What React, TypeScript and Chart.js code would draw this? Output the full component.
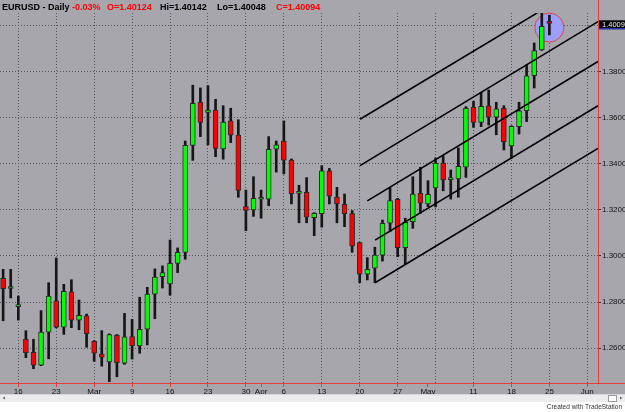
import { useEffect, useRef } from 'react';
import { Chart, registerables } from 'chart.js';
Chart.register(...registerables);

// Trading-day index 0 = Thu 12 Feb 2009 ... 72 = Mon 25 May 2009
const opens = [
  1.2903, 1.2859, 1.2780, 1.2639, 1.2582, 1.2526, 1.2670, 1.2805, 1.2691, 1.2844,
  1.2722, 1.2740, 1.2630, 1.2574, 1.2540, 1.2656, 1.2535, 1.2650, 1.2610, 1.2682,
  1.2834, 1.2910, 1.2879, 1.2968, 1.3016, 1.3480, 1.3667, 1.3623, 1.3633, 1.3465,
  1.3586, 1.3525, 1.3214, 1.3200, 1.3246, 1.3246, 1.3463, 1.3499, 1.3416, 1.3272,
  1.3276, 1.3166, 1.3184, 1.3369, 1.3256, 1.3224, 1.3184, 1.3058, 1.2921, 1.2947,
  1.3004, 1.3142, 1.3246, 1.3036, 1.3149, 1.3272, 1.3226, 1.3295, 1.3403, 1.3331,
  1.3334, 1.3385, 1.3645, 1.3580, 1.3652, 1.3602, 1.3641, 1.3478, 1.3561, 1.3630,
  1.3782, 1.3894, 1.4012,
];
const highs = [
  1.2942, 1.2942, 1.2826, 1.2676, 1.2639, 1.2763, 1.2884, 1.2991, 1.2877, 1.2897,
  1.2809, 1.2748, 1.2633, 1.2676, 1.2662, 1.2659, 1.2751, 1.2725, 1.2821, 1.2864,
  1.2944, 1.2957, 1.3069, 1.3035, 1.3499, 1.3741, 1.3729, 1.3739, 1.3680, 1.3652,
  1.3641, 1.3591, 1.3286, 1.3344, 1.3286, 1.3518, 1.3499, 1.3586, 1.3421, 1.3307,
  1.3340, 1.3188, 1.3392, 1.3380, 1.3298, 1.3269, 1.3197, 1.3060, 1.2993, 1.3038,
  1.3156, 1.3296, 1.3250, 1.3164, 1.3344, 1.3385, 1.3327, 1.3425, 1.3435, 1.3373,
  1.3469, 1.3648, 1.3671, 1.3710, 1.3720, 1.3667, 1.3652, 1.3565, 1.3667, 1.3829,
  1.3924, 1.4053, 1.4045,
];
const lows = [
  1.2719, 1.2818, 1.2722, 1.2559, 1.2511, 1.2524, 1.2554, 1.2688, 1.2660, 1.2689,
  1.2680, 1.2604, 1.2543, 1.2522, 1.2455, 1.2476, 1.2530, 1.2553, 1.2578, 1.2614,
  1.2728, 1.2861, 1.2830, 1.2928, 1.2986, 1.3415, 1.3518, 1.3482, 1.3431, 1.3420,
  1.3492, 1.3255, 1.3110, 1.3172, 1.3164, 1.3218, 1.3364, 1.3356, 1.3226, 1.3144,
  1.3144, 1.3088, 1.3125, 1.3226, 1.3144, 1.3127, 1.3016, 1.2884, 1.2896, 1.2884,
  1.2978, 1.3105, 1.2997, 1.2964, 1.3120, 1.3185, 1.3214, 1.3213, 1.3283, 1.3247,
  1.3255, 1.3341, 1.3558, 1.3561, 1.3568, 1.3526, 1.3460, 1.3425, 1.3529, 1.3583,
  1.3729, 1.3892, 1.3959,
];
const closes = [
  1.2858, 1.2861, 1.2781, 1.2581, 1.2526, 1.2670, 1.2826, 1.2691, 1.2847, 1.2722,
  1.2743, 1.2663, 1.2578, 1.2561, 1.2659, 1.2537, 1.2649, 1.2610, 1.2682, 1.2835,
  1.2908, 1.2928, 1.2968, 1.3016, 1.3480, 1.3662, 1.3580, 1.3633, 1.3467, 1.3581,
  1.3524, 1.3285, 1.3198, 1.3250, 1.3247, 1.3463, 1.3482, 1.3416, 1.3270, 1.3279,
  1.3168, 1.3185, 1.3369, 1.3260, 1.3226, 1.3184, 1.3043, 1.2921, 1.2942, 1.3004,
  1.3142, 1.3240, 1.3036, 1.3146, 1.3269, 1.3229, 1.3268, 1.3403, 1.3330, 1.3332,
  1.3389, 1.3641, 1.3580, 1.3649, 1.3602, 1.3638, 1.3496, 1.3563, 1.3630, 1.3782,
  1.3891, 1.3996, 1.4009,
];

// Channel lines: start/end as (trading-day index, price)
const channelStartX = [47.04, 47.04, 48.0, 49.02, 49.02];
const channelStartY = [1.3593, 1.3392, 1.3239, 1.3069, 1.2884];
const channelEndX = [71.43, 78.41, 78.41, 78.41, 78.41];
const channelEndY = [1.4075, 1.4017, 1.3844, 1.3652, 1.3467];

// X axis ticks (trading-day index) and their labels
const xTickIdx = [2, 7, 12, 17, 22, 27, 32, 34, 37, 42, 47, 52, 56, 57, 62, 67, 72, 77];
const xTickText = ['16', '23', 'Mar', '9', '16', '23', '30', 'Apr', '6', '13', '20', '27', 'May', '', '11', '18', '25', 'Jun'];
const xTickIsWeek = [true, true, true, true, true, true, true, false, true, true, true, true, false, true, true, true, true, true];

const yTicks = [1.26, 1.28, 1.30, 1.32, 1.34, 1.36, 1.38, 1.40];
const lastPriceLabel = '1.4009';
const lastPrice = 1.40094;
const circleX = 71.99;
const circleY = 1.3991;

const headerParts = ['EURUSD - Daily', '-0.03%', 'O=1.40124', 'Hi=1.40142', 'Lo=1.40048', 'C=1.40094'];

const X_MIN = -0.4126;
const X_MAX = 78.54;
const Y_MIN = 1.2449;
const Y_MAX = 1.40542;

const BG = '#a6a6ac';
const GRID = '#55555b';
const RED = '#e83a3a';
const FONT = 'Liberation Sans';

export default function App() {
  const ref = useRef<HTMLCanvasElement>(null);
  useEffect(() => {
    document.body.style.margin = '0';
    const canvas = ref.current!;
    const idx = opens.map((_, i) => i);
    const up = (i: number) => closes[i] >= opens[i];

    const bgPlugin = {
      id: 'bg',
      beforeDraw(chart: any) {
        const c = chart.ctx;
        c.save();
        c.fillStyle = BG;
        c.fillRect(0, 0, chart.width, chart.height);
        c.restore();
      },
      beforeDatasetsDraw(chart: any) {
        const c = chart.ctx;
        const xs = chart.scales.x, ys = chart.scales.y;
        c.save();
        c.beginPath();
        c.arc(xs.getPixelForValue(circleX), ys.getPixelForValue(circleY), 14.5, 0, Math.PI * 2);
        c.fillStyle = '#9d9ff6';
        c.fill();
        c.strokeStyle = '#e04545';
        c.lineWidth = 1;
        c.stroke();
        c.restore();
      },
      afterDraw(chart: any) {
        const c = chart.ctx;
        const area = chart.chartArea;
        const ys = chart.scales.y;
        const W = chart.width;
        c.save();
        // red axis lines
        c.strokeStyle = RED;
        c.lineWidth = 1;
        c.beginPath();
        c.moveTo(area.right - 0.5, 0);
        c.lineTo(area.right - 0.5, area.bottom);
        c.moveTo(0, area.bottom + 0.5);
        c.lineTo(W, area.bottom + 0.5);
        c.stroke();
        // last price box
        const py = ys.getPixelForValue(lastPrice) + 1.5;
        c.fillStyle = '#000';
        c.fillRect(area.right, py - 4.5, W - area.right, 9);
        c.fillStyle = '#3a55ff';
        c.fillRect(area.right, py + 3.5, W - area.right, 1);
        c.fillStyle = '#e8e8e8';
        c.font = `7.5px "${FONT}"`;
        c.textBaseline = 'middle';
        c.textAlign = 'left';
        c.fillText(lastPriceLabel, area.right + 3, py);
        // header
        c.font = `bold 9px "${FONT}"`;
        const hx = [2, 72, 107, 160, 217, 276];
        const hc = ['#000', '#ff0000', '#ff0000', '#000', '#000', '#ff0000'];
        headerParts.forEach((t, k) => {
          c.fillStyle = hc[k];
          c.fillText(t, hx[k], 7.5);
        });
        // scrollbar
        c.fillStyle = '#ececec';
        c.fillRect(0, 394, W, 8);
        c.fillStyle = '#d6d6d6';
        c.fillRect(0, 394, W, 1);
        c.fillStyle = '#666';
        c.beginPath();
        c.moveTo(2.5, 398); c.lineTo(5, 396.5); c.lineTo(5, 399.5); c.closePath(); c.fill();
        c.beginPath();
        c.moveTo(622.5, 398); c.lineTo(620, 396.5); c.lineTo(620, 399.5); c.closePath(); c.fill();
        c.fillStyle = '#fff';
        c.fillRect(608, 395, 9, 6);
        c.strokeStyle = '#9a9a9a';
        c.strokeRect(608.5, 395.5, 8, 6);
        // footer
        c.fillStyle = '#fff';
        c.fillRect(0, 402, W, chart.height - 402);
        c.fillStyle = '#333';
        c.font = `6.5px "${FONT}"`;
        c.textAlign = 'right';
        c.textBaseline = 'middle';
        c.fillText('Created with TradeStation', 622, 407.5);
        c.restore();
      },
    };

    const datasets: any[] = [
      {
        type: 'bar',
        label: 'wick',
        data: idx.map((i) => ({ x: i, y: [lows[i], highs[i]] })),
        backgroundColor: '#161616',
        barThickness: idx.map((i) => (i === 72 ? 1 : 2)),
        grouped: false,
        order: 3,
      },
      {
        type: 'bar',
        label: 'body',
        data: idx.map((i) => ({ x: i, y: [opens[i], closes[i]] })),
        backgroundColor: idx.map((i) => (up(i) ? '#00ff00' : '#ff0000')),
        borderColor: '#2a2a2a',
        borderWidth: 1,
        borderSkipped: false,
        minBarLength: 2,
        barThickness: 5,
        grouped: false,
        order: 2,
      },
      ...channelStartX.map((sx, k) => ({
        type: 'line',
        label: 'ch' + k,
        data: [
          { x: sx, y: channelStartY[k] },
          { x: channelEndX[k], y: channelEndY[k] },
        ],
        borderColor: '#000',
        borderWidth: 1.6,
        pointRadius: 0,
        order: 1,
      })),
    ];

    const chart = new Chart(canvas, {
      type: 'bar',
      data: { datasets },
      options: {
        responsive: false,
        animation: false,
        devicePixelRatio: 1,
        events: [],
        layout: { padding: { top: 13, left: 0, right: 0, bottom: 0 } },
        plugins: { legend: { display: false }, tooltip: { enabled: false } },
        scales: {
          x: {
            type: 'linear',
            min: X_MIN,
            max: X_MAX,
            bounds: 'data',
            offset: false,
            afterBuildTicks: (s: any) => {
              s.ticks = xTickIdx.map((v) => ({ value: v }));
            },
            afterFit: (s: any) => {
              s.height = 29;
            },
            ticks: {
              autoSkip: false,
              maxRotation: 0,
              minRotation: 0,
              padding: 0,
              color: '#151515',
              font: { family: FONT, size: 8 },
              callback: (_v: any, i: number) => xTickText[i],
            },
            grid: {
              offset: false,
              lineWidth: 1,
              color: (ctx: any) => (xTickIsWeek[ctx.index] ? GRID : 'rgba(0,0,0,0)'),
              tickColor: (ctx: any) => (xTickText[ctx.index] === '' ? 'rgba(0,0,0,0)' : RED),
              tickLength: 4,
            },
            border: { display: false, dash: [1, 2] },
          },
          y: {
            type: 'linear',
            position: 'right',
            min: Y_MIN,
            max: Y_MAX,
            bounds: 'data',
            afterBuildTicks: (s: any) => {
              s.ticks = yTicks.map((v) => ({ value: v }));
            },
            afterFit: (s: any) => {
              s.width = 26;
            },
            ticks: {
              padding: 1,
              color: '#151515',
              font: { family: FONT, size: 8 },
              callback: (v: any) => (Math.abs(v - 1.4) < 1e-6 ? '' : Number(v).toFixed(4)),
            },
            grid: { color: GRID, lineWidth: 1, tickColor: '#333', tickLength: 2 },
            border: { display: false, dash: [1, 2] },
          },
        },
      },
      plugins: [bgPlugin],
    } as any);
    return () => chart.destroy();
  }, []);
  return (
    <div style={{ width: 625, height: 412 }}>
      <canvas ref={ref} width={625} height={412} style={{ display: 'block' }} />
    </div>
  );
}
